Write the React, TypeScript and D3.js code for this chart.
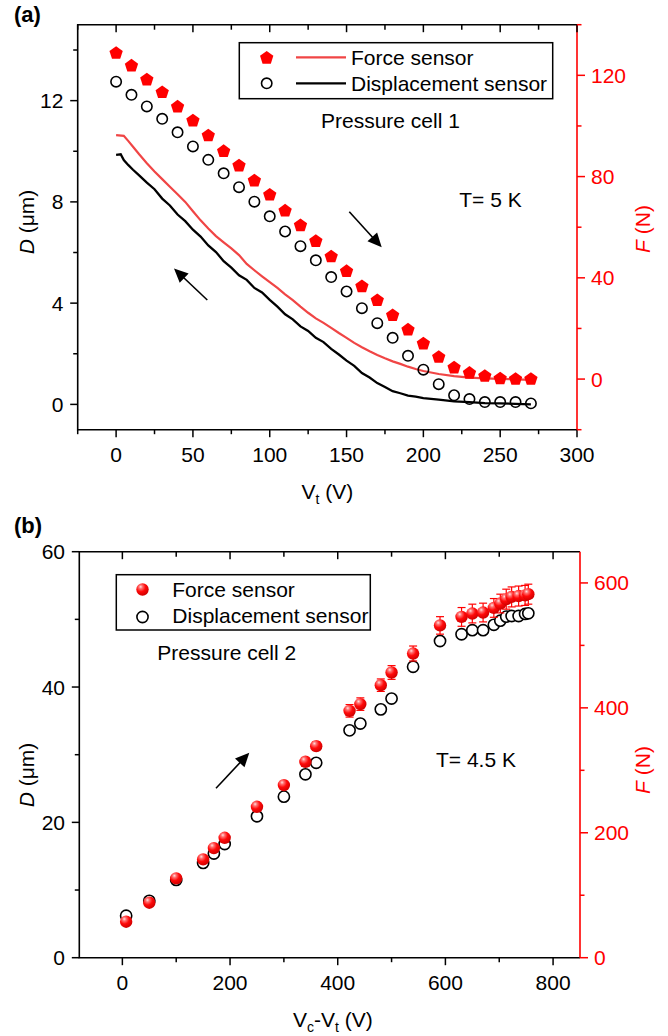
import React from 'react';
import * as d3 from 'd3';

const FONT = '"Liberation Sans", Arial, Helvetica, sans-serif';
const RED = '#ff0000';
const LINE_RED = '#f04545';

// ---------- Panel (a) data ----------
const aVolt = [0, 10, 20, 30, 40, 50, 60, 70, 80, 90, 100, 110, 120, 130, 140, 150, 160, 170, 180, 190, 200, 210, 220, 230, 240, 250, 260, 270];
const aDispPts = [12.75, 12.23, 11.77, 11.28, 10.75, 10.19, 9.66, 9.13, 8.58, 8.01, 7.43, 6.83, 6.25, 5.69, 5.03, 4.46, 3.8, 3.21, 2.63, 1.92, 1.37, 0.8, 0.36, 0.21, 0.09, 0.09, 0.09, 0.04];
const aForcePts = [129, 124, 118.5, 113.5, 107.8, 102.3, 96.4, 90.2, 84.5, 78.6, 73, 66.7, 60.9, 54.7, 48.6, 42.8, 36.8, 31.3, 25.4, 19.7, 14.2, 8.9, 4.7, 2.6, 1.4, 0.4, 0.2, 0.2];

// continuous sensor lines (return sweep)
const aDispLineV = [0, 3, 5, 8, 11, 15, 20, 25, 30, 35, 40, 45, 50, 55, 60, 65, 70, 75, 80, 85, 90, 95, 100, 105, 110, 115, 120, 125, 130, 135, 140, 145, 150, 155, 160, 165, 170, 175, 180, 185, 190, 195, 200, 210, 220, 230, 240, 250, 260, 270];
const aDispLineD = [9.86, 9.88, 9.65, 9.45, 9.27, 9.05, 8.76, 8.5, 8.13, 7.86, 7.5, 7.24, 6.9, 6.63, 6.28, 6.02, 5.66, 5.4, 5.1, 4.92, 4.6, 4.42, 4.13, 3.86, 3.56, 3.36, 3.08, 2.9, 2.63, 2.46, 2.19, 1.97, 1.73, 1.52, 1.24, 1.06, 0.84, 0.69, 0.52, 0.44, 0.35, 0.31, 0.25, 0.19, 0.12, 0.09, 0.05, 0.04, 0.02, 0.0];
const aForceLineV = [0, 5, 8, 11, 15, 20, 25, 30, 35, 40, 45, 50, 55, 60, 65, 70, 75, 80, 85, 90, 95, 100, 105, 110, 115, 120, 125, 130, 135, 140, 145, 150, 155, 160, 165, 170, 175, 180, 185, 190, 195, 200, 210, 220, 230, 240, 250, 260, 270];
const aForceLineF = [96.4, 96.1, 94, 91.8, 88.8, 85.3, 82, 79, 76, 73, 70, 66.3, 62.7, 59.5, 56.5, 54, 51.6, 49, 45.5, 43, 40.6, 38.3, 36, 33.5, 31.2, 28.6, 26.2, 24, 22.2, 20.2, 18.2, 16.3, 14.3, 12.6, 11, 9.5, 8.2, 7, 6, 4.9, 4, 3.2, 2.0, 1.2, 0.6, 0.3, 0.1, -0.1, -0.3];

const aXMajor = [0, 50, 100, 150, 200, 250, 300];
const aXMinor = [-25, 25, 75, 125, 175, 225, 275];
const aYMajor = [0, 4, 8, 12];
const aYMinor = [2, 6, 10, 14];
const aFMajor = [0, 40, 80, 120];
const aFMinor = [-20, 20, 60, 100, 140];

// ---------- Panel (b) data ----------
const bVolt = [7, 50, 100, 150, 170, 190, 250, 300, 340, 360, 422, 442, 480, 500, 540, 590, 630, 650, 670, 690, 702, 713, 723, 736, 748, 754];
const bDisp = [6.2, 8.4, 11.5, 14.0, 15.4, 16.8, 20.9, 23.8, 27.1, 28.8, 33.6, 34.6, 36.7, 38.3, 43.0, 46.8, 47.8, 48.4, 48.4, 49.2, 49.8, 50.4, 50.5, 50.5, 50.8, 50.9];
const bForce = [57.6, 88, 127, 157.4, 175.5, 192, 241.6, 276.3, 313.6, 338.7, 395.2, 406, 436.3, 456.6, 487, 532, 545.6, 551, 552.6, 560, 567, 574, 577.6, 579, 580, 582];
const bForceErr = [3, 3, 4, 5, 5, 5, 6, 6, 7, 7, 10, 10, 10, 11, 12, 14, 15, 15, 15, 15, 15, 16, 16, 16, 16, 16];

const bXMajor = [0, 200, 400, 600, 800];
const bXMinor = [100, 300, 500, 700];
const bYMajor = [0, 20, 40, 60];
const bYMinor = [10, 30, 50];
const bFMajor = [0, 200, 400, 600];
const bFMinor = [100, 300, 500];

// ---------- layout ----------
const A = { left: 77.7, right: 577, top: 24.7, bottom: 429.7 };
const B = { left: 79.3, right: 580, top: 551.7, bottom: 957.7 };

const axA = d3.scaleLinear().domain([-25, 300]).range([A.left, A.right]);
const ayA = d3.scaleLinear().domain([-1, 15]).range([A.bottom, A.top]);
const afA = d3.scaleLinear().domain([-20, 140]).range([A.bottom, A.top]);

const axB = d3.scaleLinear().domain([-80, 850]).range([B.left, B.right]);
const ayB = d3.scaleLinear().domain([0, 60]).range([B.bottom, B.top]);
const afB = d3.scaleLinear().domain([0, 650]).range([B.bottom, B.top]);

function pentagon(cx: number, cy: number, r: number) {
  const pts: string[] = [];
  for (let i = 0; i < 5; i++) {
    const ang = -Math.PI / 2 + (i * 2 * Math.PI) / 5;
    pts.push(`${cx + r * Math.cos(ang)},${cy + r * Math.sin(ang)}`);
  }
  return `M${pts.join('L')}Z`;
}

function Arrow({ x1, y1, x2, y2 }: { x1: number; y1: number; x2: number; y2: number }) {
  const dx = x2 - x1, dy = y2 - y1;
  const len = Math.hypot(dx, dy);
  const ux = dx / len, uy = dy / len;
  const hl = 14, hw = 6.5;
  const bx = x2 - ux * hl, by = y2 - uy * hl;
  const px = -uy, py = ux;
  return (
    <g>
      <line x1={x1} y1={y1} x2={bx + ux * 2} y2={by + uy * 2} stroke="#000" strokeWidth={1.6} />
      <path d={`M${x2},${y2}L${bx + px * hw},${by + py * hw}L${bx - px * hw},${by - py * hw}Z`} fill="#000" />
    </g>
  );
}

function Frame({ box, x, yl, yr, xMajor, xMinor, yMajor, yMinor, fMajor, fMinor }: any) {
  const els: any[] = [];
  const fs = 21;
  // bottom ticks (outward) and top ticks (inward)
  xMajor.forEach((v: number, i: number) => {
    const px = x(v);
    els.push(<line key={`bxM${i}`} x1={px} x2={px} y1={box.bottom} y2={box.bottom + 7.5} stroke="#000" strokeWidth={1.5} />);
    els.push(<line key={`txM${i}`} x1={px} x2={px} y1={box.top} y2={box.top + 7.5} stroke="#000" strokeWidth={1.5} />);
    els.push(<text key={`bxL${i}`} x={px} y={box.bottom + 32} textAnchor="middle" fontSize={fs} fill="#000">{v}</text>);
  });
  xMinor.forEach((v: number, i: number) => {
    const px = x(v);
    els.push(<line key={`bxm${i}`} x1={px} x2={px} y1={box.bottom} y2={box.bottom + 4.5} stroke="#000" strokeWidth={1.5} />);
    els.push(<line key={`txm${i}`} x1={px} x2={px} y1={box.top} y2={box.top + 5} stroke="#000" strokeWidth={1.5} />);
  });
  yMajor.forEach((v: number, i: number) => {
    const py = yl(v);
    els.push(<line key={`lyM${i}`} x1={box.left - 7.5} x2={box.left} y1={py} y2={py} stroke="#000" strokeWidth={1.5} />);
    els.push(<text key={`lyL${i}`} x={box.left - 14.3} y={py + 7.5} textAnchor="end" fontSize={fs} fill="#000">{v}</text>);
  });
  yMinor.forEach((v: number, i: number) => {
    const py = yl(v);
    els.push(<line key={`lym${i}`} x1={box.left - 4.5} x2={box.left} y1={py} y2={py} stroke="#000" strokeWidth={1.5} />);
  });
  fMajor.forEach((v: number, i: number) => {
    const py = yr(v);
    els.push(<line key={`ryM${i}`} x1={box.right} x2={box.right + 8} y1={py} y2={py} stroke={RED} strokeWidth={1.5} />);
    els.push(<text key={`ryL${i}`} x={box.right + 14} y={py + 7.5} textAnchor="start" fontSize={fs} fill={RED}>{v}</text>);
  });
  fMinor.forEach((v: number, i: number) => {
    const py = yr(v);
    els.push(<line key={`rym${i}`} x1={box.right} x2={box.right + 4.5} y1={py} y2={py} stroke={RED} strokeWidth={1.5} />);
  });
  return (
    <g>
      <path d={`M${box.right},${box.top}L${box.left},${box.top}L${box.left},${box.bottom}L${box.right},${box.bottom}`} fill="none" stroke="#000" strokeWidth={1.6} />
      <line x1={box.right} x2={box.right} y1={box.top} y2={box.bottom} stroke={RED} strokeWidth={1.6} />
      {els}
    </g>
  );
}

export default function App() {
  const lineDA = d3.line<number>().x((_, i) => axA(aDispLineV[i])).y((d) => ayA(d))(aDispLineD) || '';
  const lineFA = d3.line<number>().x((_, i) => axA(aForceLineV[i])).y((d) => afA(d))(aForceLineF) || '';

  return (
    <svg width={668} height={1036} style={{ position: 'absolute', left: 0, top: 0, background: '#fff' }} fontFamily={FONT}>
      <defs>
        <radialGradient id="sphere" cx="38%" cy="32%" r="68%" fx="35%" fy="28%">
          <stop offset="0%" stopColor="#ffe0e0" />
          <stop offset="22%" stopColor="#ff7070" />
          <stop offset="55%" stopColor="#ff0a0a" />
          <stop offset="100%" stopColor="#d00000" />
        </radialGradient>
      </defs>
      <rect x={0} y={0} width={668} height={1036} fill="#fff" />

      {/* ================= Panel (a) ================= */}
      <text x={14} y={22} fontSize={22} fontWeight="bold">(a)</text>
      <path d={lineFA} fill="none" stroke={LINE_RED} strokeWidth={2.2} />
      <path d={lineDA} fill="none" stroke="#000" strokeWidth={2.3} />
      {aVolt.map((v, i) => (
        <circle key={`ac${i}`} cx={axA(v)} cy={ayA(aDispPts[i])} r={5.2} fill="#fff" fillOpacity={0} stroke="#000" strokeWidth={1.6} />
      ))}
      {aVolt.map((v, i) => (
        <path key={`ap${i}`} d={pentagon(axA(v), afA(aForcePts[i]) + 0.6, 7)} fill={RED} />
      ))}
      <Frame box={A} x={axA} yl={ayA} yr={afA} xMajor={aXMajor} xMinor={aXMinor} yMajor={aYMajor} yMinor={aYMinor} fMajor={aFMajor} fMinor={aFMinor} />

      {/* legend (a) */}
      <rect x={239.3} y={42.7} width={313.4} height={56} fill="#fff" stroke="#000" strokeWidth={1.5} />
      <path d={pentagon(266.7, 58, 7)} fill={RED} />
      <line x1={296} x2={346} y1={57.3} y2={57.3} stroke={LINE_RED} strokeWidth={2.2} />
      <text x={351} y={65} fontSize={21}>Force sensor</text>
      <circle cx={266.7} cy={83.3} r={5.2} fill="none" stroke="#000" strokeWidth={1.6} />
      <line x1={296} x2={346} y1={83.3} y2={83.3} stroke="#000" strokeWidth={2.3} />
      <text x={351} y={90.7} fontSize={21}>Displacement sensor</text>

      <text x={321} y={128.3} fontSize={21}>Pressure cell 1</text>
      <text x={459.3} y={206.7} fontSize={21}>T= 5 K</text>
      <Arrow x1={207.3} y1={300} x2={174} y2={268.5} />
      <Arrow x1={349.3} y1={211.7} x2={381.7} y2={247.3} />

      {/* axis titles (a) */}
      <text x={(A.left + A.right) / 2} y={499} textAnchor="middle" fontSize={21}>
        V<tspan fontSize={14} dy={5}>t</tspan><tspan dy={-5}> (V)</tspan>
      </text>
      <text transform={`translate(34,${222}) rotate(-90)`} textAnchor="middle" fontSize={21}>
        <tspan fontStyle="italic">D</tspan> (μm)
      </text>
      <text transform={`translate(650,${229}) rotate(-90)`} textAnchor="middle" fontSize={21} fill={RED}>
        <tspan fontStyle="italic">F</tspan> (N)
      </text>

      {/* ================= Panel (b) ================= */}
      <text x={14} y={533.3} fontSize={22} fontWeight="bold">(b)</text>
      {bVolt.map((v, i) => (
        <circle key={`bc${i}`} cx={axB(v)} cy={ayB(bDisp[i])} r={5.6} fill="#fff" stroke="#000" strokeWidth={1.6} />
      ))}
      {bVolt.map((v, i) => {
        const px = axB(v);
        const y1 = afB(bForce[i] + bForceErr[i]);
        const y2 = afB(bForce[i] - bForceErr[i]);
        return (
          <g key={`be${i}`} stroke={RED} strokeWidth={1.2}>
            <line x1={px} x2={px} y1={y1} y2={y2} />
            <line x1={px - 4} x2={px + 4} y1={y1} y2={y1} />
            <line x1={px - 4} x2={px + 4} y1={y2} y2={y2} />
          </g>
        );
      })}
      {bVolt.map((v, i) => (
        <circle key={`bs${i}`} cx={axB(v)} cy={afB(bForce[i])} r={6.2} fill="url(#sphere)" />
      ))}
      <Frame box={B} x={axB} yl={ayB} yr={afB} xMajor={bXMajor} xMinor={bXMinor} yMajor={bYMajor} yMinor={bYMinor} fMajor={bFMajor} fMinor={bFMinor} />

      {/* legend (b) */}
      <rect x={116.3} y={574.7} width={254} height={55.3} fill="#fff" stroke="#000" strokeWidth={1.5} />
      <circle cx={142.5} cy={589.5} r={6.2} fill="url(#sphere)" />
      <text x={172.3} y={596.7} fontSize={21}>Force sensor</text>
      <circle cx={142.5} cy={617} r={5.6} fill="#fff" stroke="#000" strokeWidth={1.6} />
      <text x={172.3} y={622.7} fontSize={21}>Displacement sensor</text>

      <text x={157.3} y={660} fontSize={21}>Pressure cell 2</text>
      <text x={436} y={766.7} fontSize={21}>T= 4.5 K</text>
      <Arrow x1={216} y1={788.3} x2={249.3} y2={752.7} />

      {/* axis titles (b) */}
      <text x={293} y={1027} textAnchor="start" fontSize={21}>
        V<tspan fontSize={14} dy={5}>c</tspan><tspan dy={-5}>-V</tspan><tspan fontSize={14} dy={5}>t</tspan><tspan dy={-5}> (V)</tspan>
      </text>
      <text transform={`translate(34,${775}) rotate(-90)`} textAnchor="middle" fontSize={21}>
        <tspan fontStyle="italic">D</tspan> (μm)
      </text>
      <text transform={`translate(650,${770}) rotate(-90)`} textAnchor="middle" fontSize={21} fill={RED}>
        <tspan fontStyle="italic">F</tspan> (N)
      </text>
    </svg>
  );
}
